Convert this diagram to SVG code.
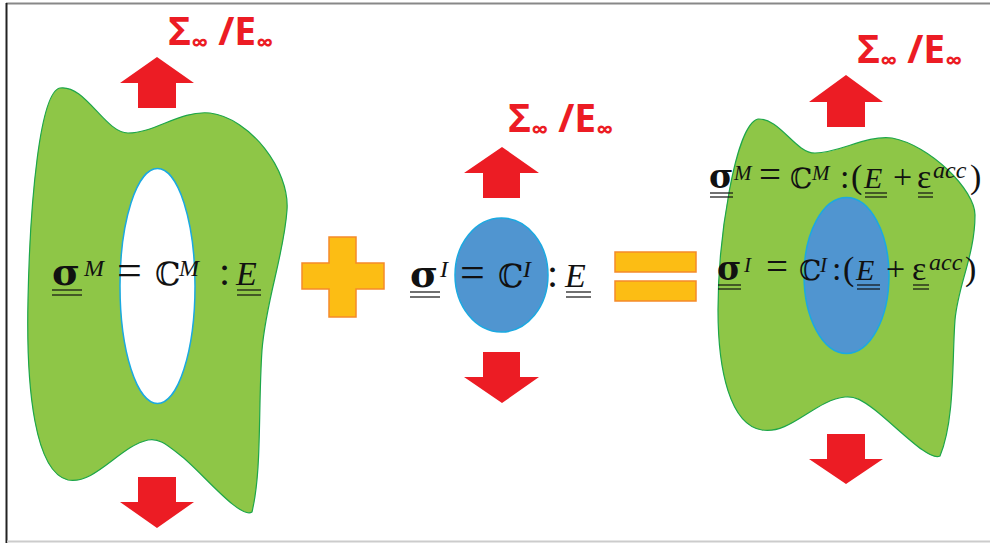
<svg xmlns="http://www.w3.org/2000/svg" width="990" height="543" viewBox="0 0 990 543">
<defs>
<style>
.blob{fill:#8EC647;stroke:#1DA64A;stroke-width:1.2}
.hole{fill:#ffffff;stroke:#1BA9E1;stroke-width:1.5}
.incl{fill:#5095D0;stroke:#1BA9E1;stroke-width:1.5}
.arrow{fill:#EC1C24}
.op{fill:#FCBD14;stroke:#F58A2A;stroke-width:1.5}
.title{font-family:"Open Sans","Liberation Sans",sans-serif;font-weight:bold;fill:#EC1C24}
.math{font-family:"Liberation Serif","DejaVu Serif",serif;fill:#111}
.it{font-style:italic}
.sg{font-family:"DejaVu Serif","Liberation Serif",serif;font-weight:bold}
.bb{font-family:"DejaVu Serif","DejaVu Sans",serif}
.ul{stroke:#111;stroke-width:1.2}
</style>
</defs>
<rect x="0" y="0" width="990" height="543" fill="#ffffff"/>
<g id="frame">
<line x1="6" y1="3.5" x2="990" y2="3.5" stroke="#888" stroke-width="2"/>
<line x1="6.5" y1="3" x2="6.5" y2="543" stroke="#222" stroke-width="2"/>
<line x1="7" y1="541.5" x2="990" y2="541.5" stroke="#ccc" stroke-width="2"/>
</g>

<g id="matrix-left">
<path class="blob" d="M60,88 C85,84 105,133 128,133 C155,133 180,110 210,113 C250,118 290,170 287,210 C284,255 266,300 262,350 C258,410 262,470 252,512 C240,520 200,470 180,455 C165,443 158,438 148,440 C120,446 95,485 68,480 C35,472 26,390 28,300 C30,200 40,92 60,88 Z"/>
<ellipse class="hole" cx="157.5" cy="286" rx="37.5" ry="117.5"/>
<text class="math" font-size="40"><tspan class="sg" x="52" y="285" font-size="38">σ</tspan><tspan class="it" x="84" y="276" font-size="24">M</tspan><tspan x="117" y="285" font-size="44">=</tspan><tspan class="bb" x="155" y="285" font-size="32">ℂ</tspan><tspan class="it" x="179" y="276" font-size="24">M</tspan><tspan x="219" y="285">:</tspan><tspan class="it" x="236" y="285" font-size="34">E</tspan></text>
<line class="ul" x1="52" y1="290" x2="82" y2="290"/><line class="ul" x1="52" y1="295" x2="82" y2="295"/>
<line class="ul" x1="237" y1="290" x2="261" y2="290"/><line class="ul" x1="237" y1="295" x2="261" y2="295"/>
</g>

<g id="load-left">
<polygon class="arrow" points="157,57 194,83 176,83 176,108 138,108 138,83 120,83"/>
<polygon class="arrow" points="138,477 176,477 176,502 194,502 157,528 120,502 138,502"/>
<text class="title" x="168" y="45" font-size="39">Σ<tspan font-size="24" dy="6">∞</tspan><tspan dy="-6"> /E</tspan><tspan font-size="24" dy="6">∞</tspan></text>
</g>

<g id="plus">
<path class="op" d="M329,237 H356 V263 H384 V289 H356 V317 H329 V289 H302 V263 H329 Z"/>
</g>

<g id="inclusion-middle">
<ellipse class="incl" cx="501.5" cy="275" rx="46.5" ry="57"/>
<text class="math" font-size="40"><tspan class="sg" x="410" y="287" font-size="38">σ</tspan><tspan class="it" x="440" y="277" font-size="24">I</tspan><tspan x="460" y="287" font-size="44">=</tspan><tspan class="bb" x="498" y="287" font-size="32">ℂ</tspan><tspan class="it" x="523" y="277" font-size="24">I</tspan><tspan x="547" y="287">:</tspan><tspan class="it" x="565" y="287" font-size="34">E</tspan></text>
<line class="ul" x1="410" y1="292" x2="440" y2="292"/><line class="ul" x1="410" y1="297" x2="440" y2="297"/>
<line class="ul" x1="566" y1="292" x2="591" y2="292"/><line class="ul" x1="566" y1="297" x2="591" y2="297"/>
</g>

<g id="load-middle">
<polygon class="arrow" points="502,147 539,173 520,173 520,198 483,198 483,173 464,173"/>
<polygon class="arrow" points="483,352 520,352 520,377 539,377 502,403 464,377 483,377"/>
<text class="title" x="508" y="132" font-size="39">Σ<tspan font-size="24" dy="6">∞</tspan><tspan dy="-6"> /E</tspan><tspan font-size="24" dy="6">∞</tspan></text>
</g>

<g id="equals">
<rect class="op" x="615" y="252" width="81" height="20"/>
<rect class="op" x="615" y="281" width="81" height="20"/>
</g>

<g id="composite-right">
<path class="blob" d="M758,119 C780,118 795,153 815,153 C840,153 865,135 892,138 C930,145 975,190 975,215 C975,255 958,285 955,320 C952,360 955,420 940,456 C930,462 900,430 875,410 C862,400 855,396 845,397 C815,400 790,435 762,430 C730,425 718,370 718,310 C718,240 735,125 758,119 Z"/>
<ellipse class="incl" cx="846.5" cy="275.5" rx="42.5" ry="78"/>
<text class="math" font-size="34"><tspan class="sg" x="709" y="188" font-size="33">σ</tspan><tspan class="it" x="734" y="180" font-size="21">M</tspan><tspan x="759" y="188" font-size="39">=</tspan><tspan class="bb" x="790" y="188" font-size="28">ℂ</tspan><tspan class="it" x="812" y="180" font-size="21">M</tspan><tspan x="840" y="188">:</tspan><tspan x="851" y="188">(</tspan><tspan class="it" x="864" y="188" font-size="30">E</tspan><tspan x="893" y="188">+</tspan><tspan x="917" y="188">ε</tspan><tspan class="it" x="933" y="178" font-size="24">acc</tspan><tspan x="970" y="188">)</tspan></text>
<text class="math" font-size="34"><tspan class="sg" x="717" y="280" font-size="33">σ</tspan><tspan class="it" x="744" y="272" font-size="21">I</tspan><tspan x="766" y="280" font-size="39">=</tspan><tspan class="bb" x="799" y="280" font-size="28">ℂ</tspan><tspan class="it" x="820" y="272" font-size="21">I</tspan><tspan x="832" y="280">:</tspan><tspan x="843" y="280">(</tspan><tspan class="it" x="856" y="280" font-size="30">E</tspan><tspan x="886" y="280">+</tspan><tspan x="912" y="280">ε</tspan><tspan class="it" x="929" y="270" font-size="24">acc</tspan><tspan x="965" y="280">)</tspan></text>
<line class="ul" x1="710" y1="193" x2="733" y2="193"/><line class="ul" x1="710" y1="197" x2="733" y2="197"/>
<line class="ul" x1="865" y1="193" x2="887" y2="193"/><line class="ul" x1="865" y1="197" x2="887" y2="197"/>
<line class="ul" x1="918" y1="193" x2="933" y2="193"/><line class="ul" x1="918" y1="197" x2="933" y2="197"/>
<line class="ul" x1="718" y1="285" x2="741" y2="285"/><line class="ul" x1="718" y1="289" x2="741" y2="289"/>
<line class="ul" x1="857" y1="285" x2="880" y2="285"/><line class="ul" x1="857" y1="289" x2="880" y2="289"/>
<line class="ul" x1="913" y1="285" x2="929" y2="285"/><line class="ul" x1="913" y1="289" x2="929" y2="289"/>
</g>

<g id="load-right">
<polygon class="arrow" points="846,75 883,102 865,102 865,127 827,127 827,102 809,102"/>
<polygon class="arrow" points="827,434 865,434 865,459 883,459 846,484 809,459 827,459"/>
<text class="title" x="857" y="63" font-size="39">Σ<tspan font-size="24" dy="6">∞</tspan><tspan dy="-6"> /E</tspan><tspan font-size="24" dy="6">∞</tspan></text>
</g>
</svg>
